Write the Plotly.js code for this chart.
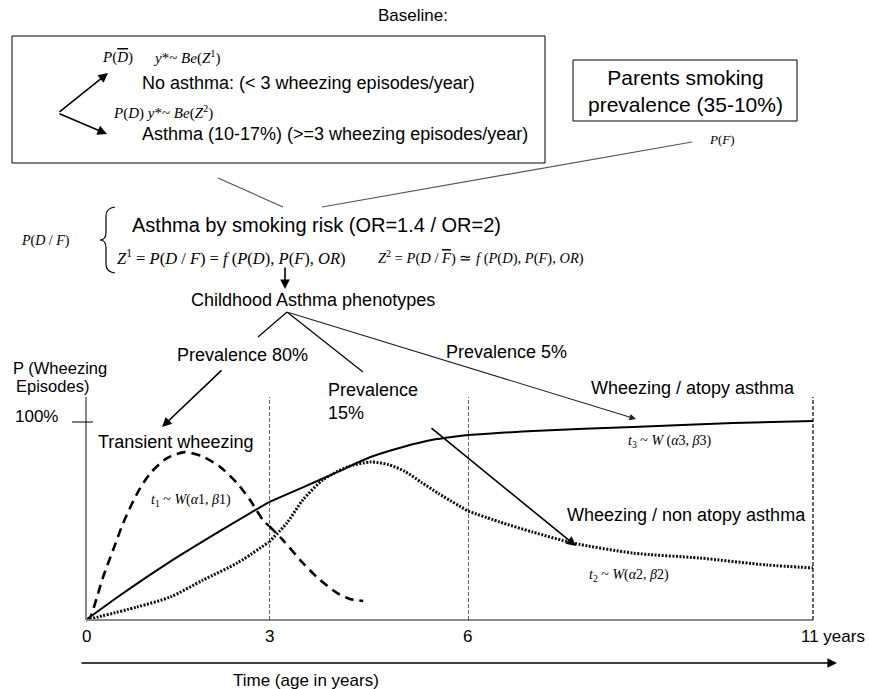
<!DOCTYPE html>
<html>
<head>
<meta charset="utf-8">
<script src="https://cdn.plot.ly/plotly-3.0.1.min.js"></script>
<style>html,body{margin:0;padding:0;background:#fff;}#chart{width:869px;height:689px;}</style>
</head>
<body>
<div id="chart"></div>
<script>
// ---------------- data ----------------
const tickYears = [0, 3, 6, 11];
const tickLabels = ['0', '3', '6', '11 years'];

// Transient wheezing (dashed), t1 ~ W(a1,b1)
const transientYears = [0, 0.07, 0.18, 0.28, 0.44, 0.61, 0.84, 1.05, 1.33, 1.62, 1.92, 2.20, 2.48, 2.69, 2.90, 3.0, 3.21, 3.51, 3.77, 4.03, 4.22, 4.42];
const transientPct   = [0, 1.5, 11.6, 21.7, 35, 49, 64, 74, 81.8, 84.8, 82.5, 77.3, 69, 60.6, 50.5, 47.5, 40.4, 28.8, 20.2, 13.6, 10.6, 9.6];

// Wheezing / atopy asthma (solid), t3 ~ W(a3,b3)
const atopyYears = [0, 0.56, 1.38, 2.20, 3.0, 3.51, 4.03, 4.53, 5.02, 5.47, 6.0, 6.94, 8.39, 9.84, 11.0];
const atopyPct   = [0, 12.5, 29.5, 45, 59.6, 67.0, 74.7, 82.3, 87.4, 91.0, 93.4, 95.5, 97.5, 99.5, 100.5];

// Wheezing / non atopy asthma (dotted), t2 ~ W(a2,b2)
const nonAtopyYears = [0, 0.84, 1.38, 1.92, 2.48, 3.0, 3.27, 3.51, 3.81, 4.18, 4.53, 4.80, 5.05, 5.30, 5.55, 6.0, 6.46, 6.94, 7.52, 8.39, 9.36, 10.33, 11.0];
const nonAtopyPct   = [0, 6.6, 11.6, 20.2, 28.8, 39.4, 49, 60.6, 70.7, 77.3, 79.8, 78.5, 75, 69.5, 64, 55, 49.5, 44.4, 38.9, 33.8, 31.3, 27.8, 26.3];

// ---------------- layout helpers ----------------
const W = 869, H = 689;
const PX = x => x / W;
const PY = y => 1 - y / H;
// pixel anchors of the (schematic, piecewise) time axis
const axPx = [86, 269, 468, 813];
const yZeroPx = 620, pxPerPct = 1.98;
const yRange = [-3, 113];

function seg(xs, ys, lo, hi) {
  const ox = [], oy = [];
  xs.forEach((v, i) => { if (v >= lo - 1e-9 && v <= hi + 1e-9) { ox.push(v); oy.push(ys[i]); } });
  return {x: ox, y: oy};
}
const axisIds = ['x', 'x2', 'x3'];
const bounds = [[tickYears[0], tickYears[1]], [tickYears[1], tickYears[2]], [tickYears[2], tickYears[3]]];

const traces = [];
function addSeries(xs, ys, line) {
  bounds.forEach((b, k) => {
    const s = seg(xs, ys, b[0], b[1]);
    if (s.x.length > 1) {
      traces.push({type: 'scatter', mode: 'lines', x: s.x, y: s.y, xaxis: axisIds[k], yaxis: 'y',
        line: Object.assign({shape: 'spline', smoothing: 0.7}, line), hoverinfo: 'skip'});
    }
  });
}
addSeries(transientYears, transientPct, {color: '#000', width: 2.6, dash: '9px,6px'});
addSeries(atopyYears, atopyPct, {color: '#000', width: 2});
addSeries(nonAtopyYears, nonAtopyPct, {color: '#111', width: 3, dash: '2px,1.5px'});

function xax(k, extraLo, extraHi) {
  const lo = tickYears[k], hi = tickYears[k + 1];
  const ppy = (axPx[k + 1] - axPx[k]) / (hi - lo);
  const r0 = lo - extraLo, r1 = hi + extraHi;
  return {domain: [PX(axPx[k] - extraLo * ppy), PX(axPx[k + 1] + extraHi * ppy)], range: [r0, r1],
    anchor: 'y', showgrid: false, zeroline: false, showline: false, showticklabels: false, ticks: '', fixedrange: true};
}
const yDom = [1 - (yZeroPx - yRange[0] * pxPerPct) / H, 1 - (yZeroPx - yRange[1] * pxPerPct) / H];

const SANS = 'Liberation Sans, Arial, sans-serif';
const SERIF = 'Liberation Serif, Times New Roman, serif';
const OV = s => '<span style="text-decoration:overline">' + s + '</span>';
const ann = [];
function txt(text, x, y, size, anchor, family, extra) {
  ann.push(Object.assign({text: text, x: PX(x), y: PY(y), xref: 'paper', yref: 'paper', showarrow: false,
    xanchor: anchor || 'left', yanchor: 'middle', borderpad: 0,
    font: {family: family || SANS, size: size || 18, color: '#000'}}, extra || {}));
}
function arrow(tx, ty, hx, hy, w, col) {
  ann.push({text: '', x: PX(hx), y: PY(hy), xref: 'paper', yref: 'paper', showarrow: true,
    ax: tx - hx, ay: ty - hy, axref: 'pixel', ayref: 'pixel', arrowhead: 2, arrowsize: 1.2,
    arrowwidth: w || 1.5, arrowcolor: col || '#000', standoff: 0, startstandoff: 0});
}

// top box
txt('Baseline:', 413, 15, 17, 'center');
txt('<i>P</i>(<i>' + OV('D') + '</i>)', 101, 57, 15, 'left', SERIF);
txt('<i>y</i>*~ <i>Be</i>(<i>Z</i><sup>1</sup>)', 152, 57, 15, 'left', SERIF);
txt('No asthma: (< 3 wheezing episodes/year)', 141, 83, 18);
txt('<i>P</i>(<i>D</i>) <i>y</i>*~ <i>Be</i>(<i>Z</i><sup>2</sup>)', 112, 113, 15, 'left', SERIF);
txt('Asthma (10-17%) (>=3 wheezing episodes/year)', 141, 134, 18);
arrow(58, 113, 108, 73, 1.6);
arrow(58, 113, 107, 134, 1.6);

// parents smoking box
txt('Parents smoking<br>prevalence (35-10%)', 685, 91, 21, 'center');
txt('<i>P</i>(<i>F</i>)', 708, 139, 13, 'left', SERIF);

// smoking risk block
txt('<i>P</i>(<i>D</i> / <i>F</i>)', 20, 241, 14, 'left', SERIF);
txt('Asthma by smoking risk (OR=1.4 / OR=2)', 131, 225, 20);
txt('<i>Z</i><sup>1</sup> = <i>P</i>(<i>D</i> / <i>F</i>) = <i>f</i> (<i>P</i>(<i>D</i>), <i>P</i>(<i>F</i>), <i>OR</i>)', 116, 257, 16.5, 'left', SERIF);
txt('<i>Z</i><sup>2</sup> = <i>P</i>(<i>D</i> / <i>' + OV('F') + '</i>) ≃ <i>f</i> (<i>P</i>(<i>D</i>), <i>P</i>(<i>F</i>), <i>OR</i>)', 377, 257, 14.5, 'left', SERIF);
arrow(285, 266, 285, 289, 1.6);
txt('Childhood Asthma phenotypes', 313, 300, 18, 'center');

// phenotypes
txt('Prevalence 80%', 242, 355, 18, 'center');
arrow(223, 369, 162, 427, 1.6);
txt('Prevalence', 327, 390, 18);
txt('15%', 327, 413, 18);
txt('Prevalence 5%', 445, 352, 18);
arrow(287, 312, 636, 419, 1.1, '#222');
txt('Wheezing / atopy asthma', 590, 388, 18);
txt('<i>t</i><sub>3</sub> ~ <i>W</i> (<i>α</i>3, <i>β</i>3)', 627, 441, 14, 'left', SERIF);
arrow(430, 427, 576, 546, 1.6);
txt('Wheezing / non atopy asthma', 566, 515, 18);
txt('<i>t</i><sub>2</sub> ~ <i>W</i>(<i>α</i>2, <i>β</i>2)', 588, 575, 14, 'left', SERIF);
txt('Transient wheezing', 97, 442, 18);
txt('<i>t</i><sub>1</sub> ~ <i>W</i>(<i>α</i>1, <i>β</i>1)', 150, 500, 14, 'left', SERIF);

// y axis labels
txt('P (Wheezing', 12, 368, 16.5);
txt('Episodes)', 15, 386, 16.5);
txt('100%', 14, 416, 17);

// x tick labels (placed through the axes)
tickYears.forEach((v, i) => {
  const k = Math.min(i, 2);
  const last = i === tickYears.length - 1;
  ann.push({text: tickLabels[i], x: v, xref: axisIds[k], y: PY(636), yref: 'paper', showarrow: false,
    xanchor: last ? 'left' : 'center', xshift: last ? -14 : 0, yanchor: 'middle',
    font: {family: SANS, size: 17, color: '#000'}});
});
arrow(80, 663, 837, 663, 1.6);
txt('Time (age in years)', 306, 680, 17, 'center');

// ---------------- shapes ----------------
const shapes = [];
function line(x0, y0, x1, y1, col, w) {
  shapes.push({type: 'line', xref: 'paper', yref: 'paper', x0: PX(x0), y0: PY(y0), x1: PX(x1), y1: PY(y1),
    line: {color: col || '#000', width: w || 1}});
}
function rect(x0, y0, x1, y1) {
  shapes.push({type: 'rect', xref: 'paper', yref: 'paper', x0: PX(x0), y0: PY(y0), x1: PX(x1), y1: PY(y1),
    line: {color: '#000', width: 1}, fillcolor: 'rgba(0,0,0,0)'});
}
rect(12, 36, 545, 163);
rect(573, 60, 797, 121);
line(218, 178, 283, 207, '#555', 1.2);
line(322, 207, 692, 142, '#555', 1.2);
line(287, 312, 258, 337, '#000', 1.2);
line(287, 312, 363, 372, '#000', 1.2);
// brace
const bp = [[115,207],[106,208],[106,216],[106,232],[106,240],[100,240],[106,240],[106,248],[106,264],[106,272],[115,273]];
const c = p => PX(p[0]) + ',' + PY(p[1]);
shapes.push({type: 'path', xref: 'paper', yref: 'paper',
  path: 'M' + c(bp[0]) + ' Q' + c(bp[1]) + ' ' + c(bp[2]) + ' L' + c(bp[3]) + ' Q' + c(bp[4]) + ' ' + c(bp[5]) +
        ' Q' + c(bp[6]) + ' ' + c(bp[7]) + ' L' + c(bp[8]) + ' Q' + c(bp[9]) + ' ' + c(bp[10]),
  line: {color: '#000', width: 1.2}});

// axes drawn with axis coordinates
shapes.push({type: 'line', xref: 'paper', yref: 'y', x0: PX(axPx[0]), x1: PX(axPx[0]), y0: 0, y1: 112.6, line: {color: '#8a8a8a', width: 2}});
shapes.push({type: 'line', xref: 'paper', yref: 'y', x0: PX(72), x1: PX(93), y0: 100, y1: 100, line: {color: '#000', width: 1}});
shapes.push({type: 'line', xref: 'paper', yref: 'y', x0: PX(axPx[0]), x1: PX(axPx[3]), y0: 0, y1: 0, line: {color: '#8a8a8a', width: 2}});
[[1, 'x2'], [2, 'x3'], [3, 'x3']].forEach(([i, ref]) => {
  shapes.push({type: 'line', xref: ref, yref: 'y', x0: tickYears[i], x1: tickYears[i], y0: 0, y1: 112.6,
    line: {color: '#000', width: 1.2, dash: '4px,2px'}});
});

const layout = {
  width: W, height: H, margin: {l: 0, r: 0, t: 0, b: 0, pad: 0},
  paper_bgcolor: '#fff', plot_bgcolor: 'rgba(0,0,0,0)', showlegend: false,
  xaxis: xax(0, 0.1, 0), xaxis2: xax(1, 0, 0), xaxis3: xax(2, 0, 0.1),
  yaxis: {domain: yDom, range: yRange, showgrid: false, zeroline: false, showline: false, showticklabels: false, ticks: '', fixedrange: true},
  annotations: ann, shapes: shapes
};
Plotly.newPlot('chart', traces, layout, {displayModeBar: false, staticPlot: true});
</script>
</body>
</html>
